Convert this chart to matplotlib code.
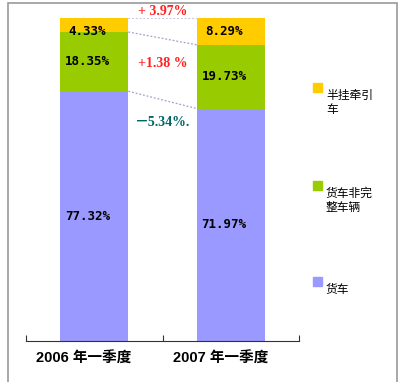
import numpy as np
import matplotlib.pyplot as plt
from matplotlib.patches import Rectangle

categories = ["2006 年一季度", "2007 年一季度"]
series_names = ["货车", "货车非完\n整车辆", "半挂牵引\n车"]
truck = [77.32, 71.97]
incomplete = [18.35, 19.73]
semi = [4.33, 8.29]
changes = ["+ 3.97%", "+1.38 %", "－5.34%."]
colors = ["#9999FF", "#99CC00", "#FFCC00"]

fig = plt.figure(figsize=(4, 3.82), dpi=100)
fig.add_artist(Rectangle((7.5 / 400, -0.01), 389 / 400, 1.01 - 2.5 / 382,
                         transform=fig.transFigure, fill=False,
                         edgecolor="#999999", lw=1.2))
ax = fig.add_axes([26 / 400, 1 - 341 / 382, 273 / 400, 323 / 382])

x = np.arange(len(categories))
w = 0.5
num_font = dict(family="DejaVu Sans Mono", weight="bold", size=9)

bottoms = np.zeros(len(categories))
tops = []
for vals, c in zip([truck, incomplete, semi], colors):
    vals = np.array(vals)
    ax.bar(x, vals, w, bottom=bottoms, color=c, edgecolor="none")
    for i, v in enumerate(vals):
        yc = bottoms[i] + v / 2
        if v < 6:
            yc = bottoms[i] + 0.3
        ax.text(x[i] - 0.05, yc, f"{v:.2f}%", ha="center", va="center",
                **num_font)
    bottoms = bottoms + vals
    tops.append(bottoms.copy())

# dotted connectors between stack boundaries
for b in tops:
    ax.plot([x[0] + w / 2, x[1] - w / 2], [b[0], b[1]], color="#A0A0D0",
            lw=0.9, ls=(0, (1.5, 1.5)))

ser = dict(family=["Liberation Serif", "Noto Sans CJK SC"], weight="bold",
           size=10)
ax.text(0.5, 102, changes[0], color="#FF2020", ha="center", va="center",
        clip_on=False, **ser)
ax.text(0.5, 85.8, changes[1], color="#FF2020", ha="center", va="center", **ser)
ax.text(0.5, 67.8, changes[2], color="#006666", ha="center", va="center", **ser)

ax.set_xlim(-0.5, 1.5)
ax.set_ylim(0, 100)
for s in ["top", "left", "right"]:
    ax.spines[s].set_visible(False)
ax.spines["bottom"].set_color("#333333")
ax.set_yticks([])
ax.set_xticks([-0.5, 0.5, 1.5])
ax.set_xticklabels([])
ax.tick_params(axis="x", direction="in", length=4, color="#333333")
for i, cat in enumerate(categories):
    ax.text(x[i] - 0.075, -5.5, cat, ha="center", va="center",
            clip_on=False, family=["Liberation Sans", "Noto Sans CJK SC"],
            weight="bold", size=10.5)

# legend, top to bottom
leg_y = [88, 186, 282]
for name, c, yp in zip(series_names[::-1], colors[::-1], leg_y):
    fig.add_artist(Rectangle((313 / 400, 1 - (yp + 4) / 382), 9 / 400, 9 / 382,
                             transform=fig.transFigure, color=c))
    fig.text(326 / 400, 1 - (yp + 1) / 382, name, va="top", ha="left",
             family="Noto Sans CJK SC", size=8.5, linespacing=1.05)

fig.savefig("out.png", dpi=100)
